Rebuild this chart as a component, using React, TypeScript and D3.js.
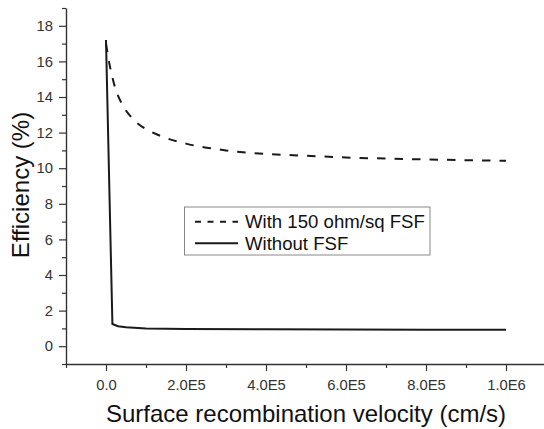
import React, { useEffect, useRef } from 'react';
import * as d3 from 'd3';

// surface recombination velocity (cm/s) vs efficiency (%)
const fsfX = [0, 1e4, 2e4, 4e4, 6e4, 8e4, 1e5, 1.5e5, 2e5, 3e5, 4e5, 5e5, 6e5, 7e5, 8e5, 9e5, 1e6];
const fsfY = [17.0, 15.7, 14.75, 13.6, 12.95, 12.5, 12.2, 11.7, 11.38, 11.0, 10.8, 10.7, 10.6, 10.54, 10.49, 10.45, 10.42];

const noFsfX = [0, 1.6e4, 3e4, 5e4, 1e5, 2e5, 4e5, 6e5, 8e5, 1e6];
const noFsfY = [17.2, 1.25, 1.12, 1.06, 0.99, 0.96, 0.95, 0.94, 0.93, 0.93];

const xMajor = [0, 2e5, 4e5, 6e5, 8e5, 1e6];
const xMinor = [-1e5, 1e5, 3e5, 5e5, 7e5, 9e5];
const xLabels = ['0.0', '2.0E5', '4.0E5', '6.0E5', '8.0E5', '1.0E6'];
const yMajor = [0, 2, 4, 6, 8, 10, 12, 14, 16, 18];
const yMinor = [-1, 1, 3, 5, 7, 9, 11, 13, 15, 17, 19];

const seriesNames = ['With 150 ohm/sq FSF', 'Without FSF'];

const W = 544;
const H = 429;
const FONT = '"Liberation Sans", Arial, sans-serif';

export default function App() {
  const ref = useRef<SVGSVGElement>(null);

  useEffect(() => {
    const svg = d3.select(ref.current);
    svg.selectAll('*').remove();

    const xScale = d3.scaleLinear().domain([-1e5, 1.1e6]).range([66, 546]);
    const yScale = d3.scaleLinear().domain([-1, 19]).range([364, 8]);

    svg.append('rect').attr('width', W).attr('height', H).attr('fill', '#fff');

    const axisColor = '#333';

    // y axis: minor ticks then major ticks with labels
    svg.append('g')
      .attr('transform', 'translate(66,0)')
      .call(d3.axisLeft(yScale).tickValues(yMinor).tickSize(4).tickFormat(() => ''))
      .call(g => g.select('.domain').remove());
    const yAxis = svg.append('g')
      .attr('transform', 'translate(66,0)')
      .call(d3.axisLeft(yScale).tickValues(yMajor).tickSize(7).tickPadding(6).tickSizeOuter(0));

    // x axis
    svg.append('g')
      .attr('transform', 'translate(0,364)')
      .call(d3.axisBottom(xScale).tickValues(xMinor).tickSize(4).tickFormat(() => ''))
      .call(g => g.select('.domain').remove());
    const xAxis = svg.append('g')
      .attr('transform', 'translate(0,364)')
      .call(
        d3.axisBottom(xScale)
          .tickValues(xMajor)
          .tickSize(7)
          .tickPadding(8)
          .tickSizeOuter(0)
          .tickFormat((d, i) => xLabels[i])
      );

    svg.selectAll('.tick line').attr('stroke', axisColor).attr('stroke-width', 1.2);
    svg.selectAll('.domain').attr('stroke', axisColor).attr('stroke-width', 1.4);
    [xAxis, yAxis].forEach(a => a.selectAll('text')
      .attr('fill', '#333')
      .style('font-family', FONT)
      .style('font-size', '14.8px'));

    // axis titles
    svg.append('text')
      .attr('x', 306)
      .attr('y', 421.5)
      .attr('text-anchor', 'middle')
      .style('font-family', FONT)
      .style('font-size', '24px')
      .attr('fill', '#111')
      .text('Surface recombination velocity (cm/s)');

    svg.append('text')
      .attr('transform', 'translate(28.5,185) rotate(-90)')
      .attr('text-anchor', 'middle')
      .style('font-family', FONT)
      .style('font-size', '24px')
      .attr('fill', '#111')
      .text('Efficiency (%)');

    // curves
    const line = d3.line<[number, number]>()
      .x(d => xScale(d[0]))
      .y(d => yScale(d[1]));

    const fsfData = fsfX.map((x, i) => [x, fsfY[i]] as [number, number]);
    const noFsfData = noFsfX.map((x, i) => [x, noFsfY[i]] as [number, number]);

    svg.append('path')
      .datum(fsfData)
      .attr('d', line.curve(d3.curveMonotoneX))
      .attr('fill', 'none')
      .attr('stroke', '#1a1a1a')
      .attr('stroke-width', 2)
      .attr('stroke-dasharray', '8.5,9');

    svg.append('path')
      .datum(noFsfData)
      .attr('d', line.curve(d3.curveLinear))
      .attr('fill', 'none')
      .attr('stroke', '#1a1a1a')
      .attr('stroke-width', 2);

    // legend
    const legend = svg.append('g');
    legend.append('rect')
      .attr('x', 184.5)
      .attr('y', 207)
      .attr('width', 245.5)
      .attr('height', 48)
      .attr('fill', '#fff')
      .attr('stroke', '#888')
      .attr('stroke-width', 1);
    const rows = [221.7, 243.3];
    seriesNames.forEach((name, i) => {
      legend.append('line')
        .attr('x1', 195)
        .attr('x2', 238)
        .attr('y1', rows[i])
        .attr('y2', rows[i])
        .attr('stroke', '#1a1a1a')
        .attr('stroke-width', 2)
        .attr('stroke-dasharray', i === 0 ? '6,6.5' : null);
      legend.append('text')
        .attr('x', 245)
        .attr('y', rows[i])
        .attr('dy', '0.35em')
        .style('font-family', FONT)
        .style('font-size', '18.6px')
        .attr('fill', '#111')
        .text(name);
    });
  }, []);

  return (
    <svg
      ref={ref}
      width={W}
      height={H}
      style={{ position: 'absolute', left: 0, top: 0, display: 'block' }}
    />
  );
}
